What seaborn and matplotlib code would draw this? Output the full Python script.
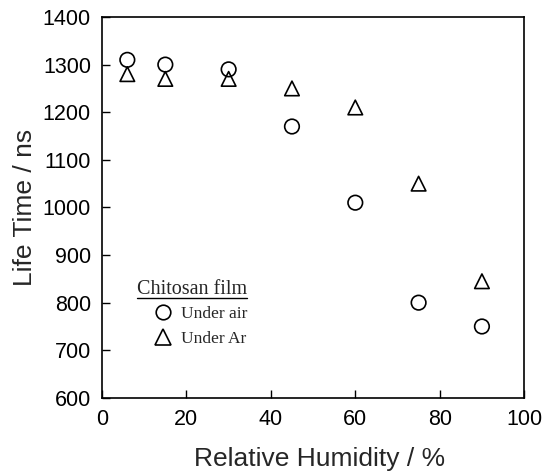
import matplotlib
matplotlib.use("Agg")
import matplotlib.pyplot as plt
import seaborn as sns
import pandas as pd
from matplotlib.lines import Line2D

# Data
humidity_air = [6, 15, 30, 45, 60, 75, 90]
lifetime_air = [1310, 1300, 1290, 1170, 1010, 800, 750]
humidity_ar = [6, 15, 30, 45, 60, 75, 90]
lifetime_ar = [1280, 1270, 1270, 1250, 1210, 1050, 845]
labels = ["Under air", "Under Ar"]
x_ticks = [0, 20, 40, 60, 80, 100]
y_ticks = [600, 700, 800, 900, 1000, 1100, 1200, 1300, 1400]

df = pd.DataFrame({
    "RH": humidity_air + humidity_ar,
    "LT": lifetime_air + lifetime_ar,
    "cond": [labels[0]] * len(humidity_air) + [labels[1]] * len(humidity_ar),
})

sns.set_style("ticks")
plt.rcParams["font.family"] = ["Liberation Sans", "DejaVu Sans"]

fig = plt.figure(figsize=(5.44, 4.72), dpi=100)
ax = fig.add_axes([0.1875, 0.157, 0.776, 0.807])

sns.scatterplot(data=df, x="RH", y="LT", style="cond",
                markers={labels[0]: "o", labels[1]: "^"},
                s=110, facecolor="none", edgecolor="black", linewidth=1.2,
                color="black", ax=ax, legend=False)

ax.set_xlim(0, 100)
ax.set_ylim(600, 1400)
ax.set_xticks(x_ticks)
ax.set_yticks(y_ticks)
ax.tick_params(direction="in", length=6, width=1, labelsize=15.5, colors="black", pad=8)
for sp in ax.spines.values():
    sp.set_visible(True)
    sp.set_linewidth(1.2)
    sp.set_color("black")
ax.set_xlabel("Relative Humidity / %", fontsize=19, labelpad=12, x=0.515)
ax.set_ylabel("Life Time / ns", fontsize=19, labelpad=4)

# Legend
handles = [
    Line2D([], [], linestyle="none", marker="o", markersize=10.5,
           markerfacecolor="none", markeredgecolor="black", markeredgewidth=1.2),
    Line2D([], [], linestyle="none", marker="^", markersize=11,
           markerfacecolor="none", markeredgecolor="black", markeredgewidth=1.2),
]
leg = ax.legend(handles, labels, loc="upper left", bbox_to_anchor=(0.088, 0.282),
                frameon=False, handlelength=1.0, handletextpad=0.5, labelspacing=0.5,
                prop={"family": ["Liberation Serif"], "size": 12.5})

title = ax.text(0.083, 0.259, "Chitosan film", transform=ax.transAxes,
                family=["Liberation Serif"], fontsize=14.5, ha="left", va="bottom")
fig.canvas.draw()
bb = title.get_window_extent()
y_line = bb.y0 + 1
fig.add_artist(Line2D([bb.x0, bb.x1], [y_line, y_line], transform=None,
                      color="black", linewidth=1.0))

fig.savefig("out.png", dpi=100)
